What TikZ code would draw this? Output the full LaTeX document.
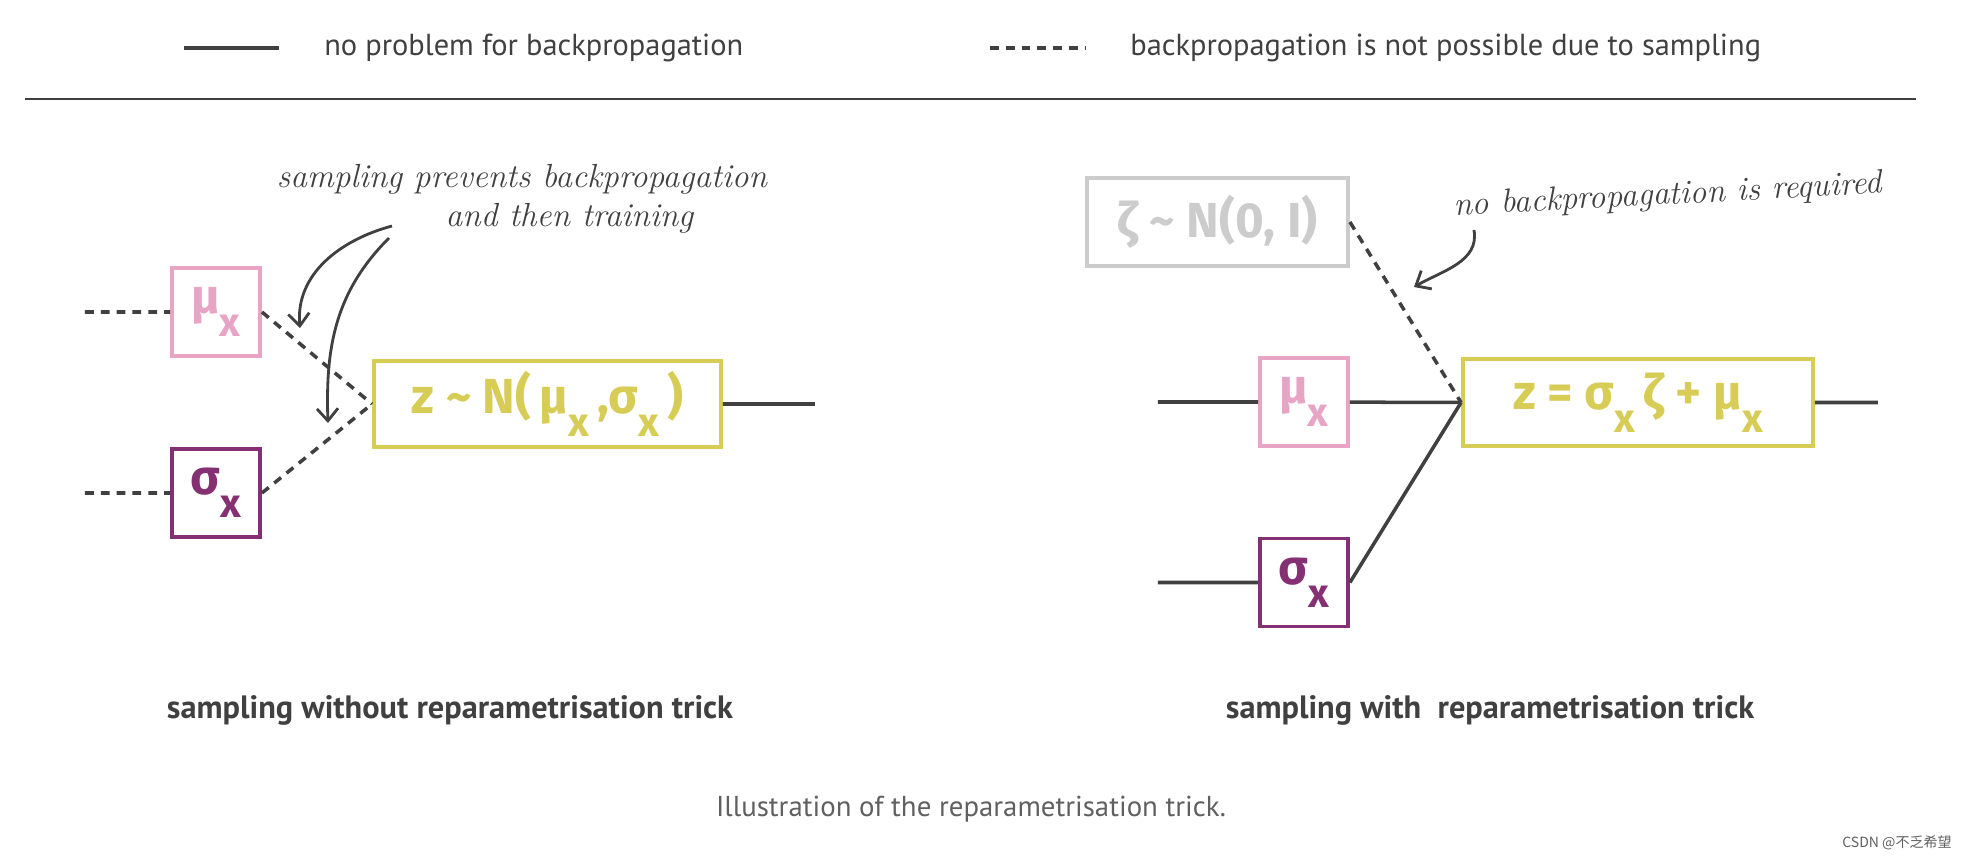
\documentclass[tikz,border=0pt]{standalone}
\usepackage{fontspec}
\usepackage{xcolor}
\usepackage{tikz}
\usetikzlibrary{arrows.meta}
\setsansfont{PT Sans}
\newfontfamily\greekfont{Fira Sans}
\newfontfamily\cjk{Noto Sans CJK SC}
\definecolor{linegray}{RGB}{64,64,64}
\definecolor{mupink}{RGB}{232,164,196}
\definecolor{sigpurple}{RGB}{134,48,116}
\definecolor{zyellow}{RGB}{214,204,86}
\definecolor{zetagray}{RGB}{204,204,204}
\definecolor{capgray}{RGB}{96,96,96}
\newcommand{\subx}{\raisebox{-13pt}{\fontsize{23}{23}\selectfont x}}

\begin{document}
\begin{tikzpicture}[scale=0.2]
\tikzstyle{every node}+=[inner sep=0pt]
\tikzstyle{box}=[draw, line width=2.2pt, font=\greekfont\bfseries\fontsize{28}{32}\selectfont]
\tikzstyle{small box}=[box, minimum width=1.76cm, minimum height=1.76cm]
\tikzstyle{wire}=[draw=linegray, line width=2pt]
\tikzstyle{sampled}=[wire, dash pattern=on 5pt off 4pt]
\tikzstyle{note}=[font=\itshape\fontsize{19}{22}\selectfont, text=linegray]
\tikzstyle{hint}=[draw=linegray, line width=1.6pt, -{Straight Barb[length=7pt,width=12pt]}]
\tikzstyle{legend}=[anchor=west, font=\sffamily\fontsize{17.3}{19}\selectfont, text=linegray]
\tikzstyle{heading}=[font=\sffamily\bfseries\fontsize{18.4}{20}\selectfont, text=linegray]
\useasboundingbox (0,0) rectangle (196.8,-86.4);
% legend
\coordinate (solidA) at (18.4,-4.8);
\coordinate (solidB) at (27.9,-4.8);
\draw [wire, line width=2.6pt] (solidA) -- (solidB);
\node (solidtext) [legend] at (32.4,-4.8) {no problem for backpropagation};
\coordinate (dashA) at (99,-4.8);
\coordinate (dashB) at (108.6,-4.8);
\draw [sampled, line width=2.6pt] (dashA) -- (dashB);
\node (dashtext) [legend] at (113,-4.8) {backpropagation is not possible due to sampling};
\coordinate (ruleA) at (2.5,-9.9);
\coordinate (ruleB) at (191.6,-9.9);
\draw [wire, line width=1.6pt] (ruleA) -- (ruleB);
% without the trick
\node (muL) [small box, draw=mupink, text=mupink] at (21.6,-31.2) {μ\subx};
\node (sigL) [small box, draw=sigpurple, text=sigpurple] at (21.6,-49.3) {σ\subx};
\node (zL) [box, draw=zyellow, text=zyellow, minimum width=6.94cm, minimum height=1.72cm] at (54.75,-40.4) {z \textasciitilde\ N(\,μ\subx\,,σ\subx\,)};
\coordinate (inMuL) at (8.5,-31.2);
\coordinate (inSigL) at (8.5,-49.3);
\coordinate (outL) at (81.5,-40.4);
\draw [sampled] (inMuL) -- (muL);
\draw [sampled] (inSigL) -- (sigL);
\draw [sampled] (muL.east) -- (zL.west);
\draw [sampled] (sigL.east) -- (zL.west);
\draw [wire] (zL) -- (outL);
\node (noteL) [note, align=left] at (52.2,-19.9) {sampling prevents backpropagation\\\hspace*{96pt}and then training};
\coordinate (hintA1) at (39.2,-22.6);
\coordinate (hintA2) at (30.0,-32.8);
\coordinate (hintB1) at (38.9,-23.8);
\coordinate (hintB2) at (32.8,-42.3);
\draw [hint] (hintA1) to[out=195,in=95] (hintA2);
\draw [hint] (hintB1) to[out=225,in=92] (hintB2);
% with the trick
\node (zeta) [box, draw=zetagray, text=zetagray, minimum width=5.22cm, minimum height=1.76cm] at (121.75,-22.2) {ζ \textasciitilde\ N(0, I)};
\node (muR) [small box, draw=mupink, text=mupink] at (130.4,-40.2) {μ\subx};
\node (sigR) [small box, draw=sigpurple, text=sigpurple] at (130.4,-58.25) {σ\subx};
\node (zR) [box, draw=zyellow, text=zyellow, minimum width=7cm, minimum height=1.74cm] at (163.8,-40.25) {z = σ\subx\,ζ + μ\subx};
\coordinate (inMuR) at (115.8,-40.2);
\coordinate (inSigR) at (115.8,-58.25);
\coordinate (outR) at (187.8,-40.25);
\draw [wire] (inMuR) -- (muR);
\draw [wire] (inSigR) -- (sigR);
\draw [wire] (muR) -- (zR.west);
\draw [wire] (sigR.east) -- (zR.west);
\draw [sampled] (zeta.east) -- (zR.west);
\draw [wire] (zR) -- (outR);
\node (noteR) [note, rotate=3] at (166.8,-19.6) {no backpropagation is required};
\coordinate (hintC1) at (147.4,-23);
\coordinate (hintC2) at (141.4,-28.7);
\draw [hint] (hintC1) to[out=-80,in=30] (hintC2);
% captions
\node (capL) [heading] at (45,-71) {sampling without reparametrisation trick};
\node (capR) [heading] at (149,-71) {sampling with\ \ reparametrisation trick};
\node (caption) [font=\sffamily\fontsize{16.4}{18}\selectfont, text=capgray] at (97.1,-80.9) {Illustration of the reparametrisation trick.};
\node (mark) [font=\cjk\fontsize{8}{10}\selectfont, text=capgray] at (189.7,-84.3) {CSDN @不乏希望};
\end{tikzpicture}
\end{document}
